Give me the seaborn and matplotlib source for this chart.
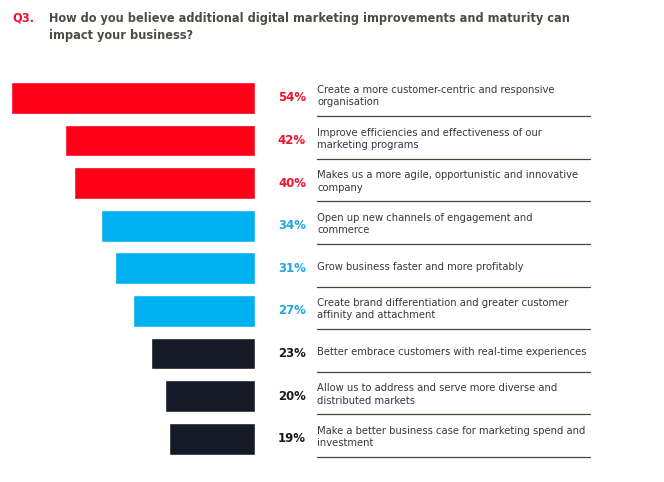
import matplotlib
matplotlib.use("Agg")
import matplotlib.pyplot as plt
import matplotlib.transforms as mtransforms
from matplotlib import font_manager
import seaborn as sns

# =============================

categories = [
    "Create a more customer-centric and responsive\norganisation",
    "Improve efficiencies and effectiveness of our\nmarketing programs",
    "Makes us a more agile, opportunistic and innovative\ncompany",
    "Open up new channels of engagement and\ncommerce",
    "Grow business faster and more profitably",
    "Create brand differentiation and greater customer\naffinity and attachment",
    "Better embrace customers with real-time experiences",
    "Allow us to address and serve more diverse and\ndistributed markets",
    "Make a better business case for marketing spend and\ninvestment",
]
values = [54, 42, 40, 34, 31, 27, 23, 20, 19]
groups = ["red", "red", "red", "blue", "blue", "blue", "dark", "dark", "dark"]

title_q = "Q3."
title_text = "How do you believe additional digital marketing improvements and maturity can\nimpact your business?"

# =============================

group_colors = {"red": "#ff0019", "blue": "#00b0f0", "dark": "#151b26"}
text_colors = {"red": "#f0142a", "blue": "#1ea7e0", "dark": "#1a1a1a"}
line_color = "#4d4238"
title_color = "#4f4a46"

sns.set_style("white")

# pick a narrow face if one is around, the reference uses a condensed font
files = [f.fname.lower() for f in font_manager.fontManager.ttflist]
names = {f.name for f in font_manager.fontManager.ttflist}
stretch = "normal"
if "Liberation Sans Narrow" in names:
    plt.rcParams["font.family"] = ["Liberation Sans Narrow", "DejaVu Sans"]
else:
    plt.rcParams["font.family"] = ["DejaVu Sans"]
    if any("dejavusanscondensed" in f for f in files):
        stretch = "condensed"

W, H = 664, 482
fig = plt.figure(figsize=(W / 100, H / 100), dpi=100)
renderer = fig.canvas.get_renderer()


def fit(txt, target_px, size):
    # shrink/grow fontsize so the widest line is target_px wide
    txt.set_fontsize(size)
    w = txt.get_window_extent(renderer).width
    txt.set_fontsize(size * target_px / w)


# bars sit in an axes whose right edge is the common baseline
left_px, right_px = 11, 255
top_px, bottom_px = 76.6, 460
ax = fig.add_axes([left_px / W, 1 - bottom_px / H, (right_px - left_px) / W, (bottom_px - top_px) / H])

palette = [group_colors[g] for g in groups]
sns.barplot(x=values, y=categories, hue=categories, palette=palette, legend=False,
            orient="h", width=0.75, saturation=1, ax=ax)
ax.set_xlim(max(values), 0)
ax.set_ylim(len(categories) - 0.5, -0.5)
ax.axis("off")

trans = mtransforms.blended_transform_factory(fig.transFigure, ax.transData)

# work out one size for all labels from the widest single line
probe = fig.text(0, 0, "Better embrace customers with real-time experiences",
                 fontstretch=stretch)
fit(probe, 272, 9)
label_size = probe.get_fontsize()
probe.remove()
probe = fig.text(0, 0, "54%", fontweight="bold", fontstretch=stretch)
fit(probe, 28, 10)
pct_size = probe.get_fontsize()
probe.remove()

for i, (cat, val, g) in enumerate(zip(categories, values, groups)):
    ax.text(306 / W, i, f"{val}%", transform=trans, ha="right", va="center",
            fontsize=pct_size, fontweight="bold", color=text_colors[g], fontstretch=stretch)
    ax.text(317 / W, i - 0.04, cat, transform=trans, ha="left", va="center",
            fontsize=label_size, color="#3c3835", linespacing=1.3, fontstretch=stretch)
    ax.plot([317 / W, 590 / W], [i + 0.43, i + 0.43], transform=trans,
            color=line_color, lw=0.9, clip_on=False)

# title
t = fig.text(49 / W, 1 - 27 / H, title_text, ha="left", va="center",
             fontweight="bold", color=title_color, linespacing=1.45, fontstretch=stretch)
fit(t, 517, 12)
fig.text(12 / W, 1 - 18 / H, title_q, ha="left", va="center", fontweight="bold",
         fontsize=t.get_fontsize(), color=text_colors["red"], fontstretch=stretch)

fig.savefig("out.png", dpi=100, facecolor="white")
